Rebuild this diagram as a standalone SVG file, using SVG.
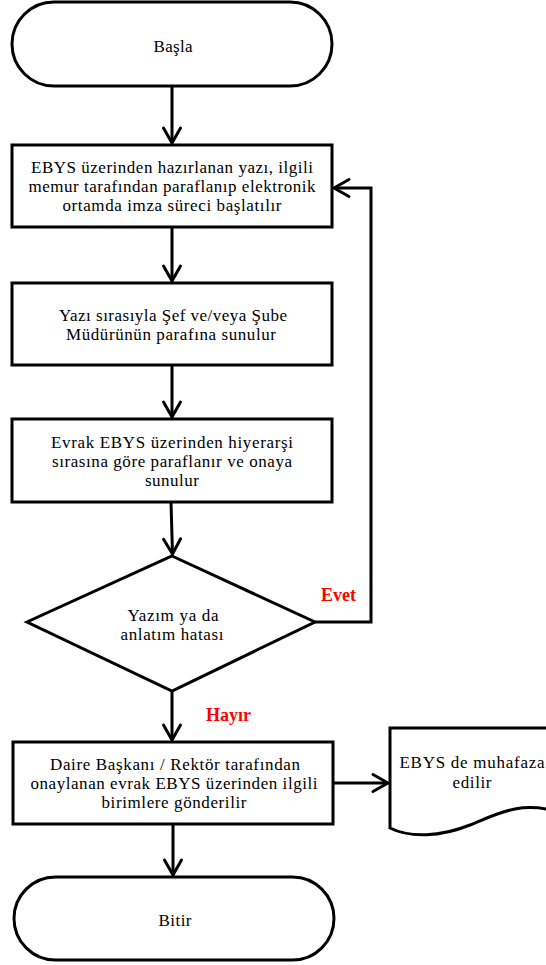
<svg xmlns="http://www.w3.org/2000/svg" width="546" height="965" viewBox="0 0 546 965">
<defs>
<style>
.shape{fill:#fff;stroke:#000;stroke-width:3;stroke-linejoin:miter}
.conn{fill:none;stroke:#000;stroke-width:3}
.t{font-family:"Liberation Serif","Times New Roman",serif;font-size:17px;fill:#000;text-anchor:middle}
.lbl{font-family:"Liberation Serif","Times New Roman",serif;font-size:18px;font-weight:bold;fill:#ff0000}
</style>
<marker id="arr" markerUnits="userSpaceOnUse" markerWidth="40" markerHeight="40" viewBox="-20 -20 40 40" refX="0" refY="0" orient="auto" overflow="visible">
<path d="M-15,-8.5 L0,0 L-15,8.5" fill="none" stroke="#000" stroke-width="3" stroke-linecap="round" stroke-linejoin="round"/>
</marker>
</defs>
<rect width="546" height="965" fill="#fff"/>
<g id="connectors">
<path class="conn" d="M172,86 V143" marker-end="url(#arr)"/>
<path class="conn" d="M172,227 V281" marker-end="url(#arr)"/>
<path class="conn" d="M172,365 V417" marker-end="url(#arr)"/>
<path class="conn" d="M171,502 L172.5,554" marker-end="url(#arr)"/>
<path class="conn" d="M172,691 V740" marker-end="url(#arr)"/>
<path class="conn" d="M333,783 H388" marker-end="url(#arr)"/>
<path class="conn" d="M173,824 V875" marker-end="url(#arr)"/>
<path class="conn" d="M315,622 H371 V188 H334" marker-end="url(#arr)"/>
</g>
<g id="start">
<rect class="shape" x="12" y="2" width="320" height="84" rx="42" ry="42"/>
<text class="t" x="173" y="52" textLength="39" lengthAdjust="spacing">Başla</text>
</g>
<g id="step1">
<rect class="shape" x="12" y="145" width="320" height="82"/>
<text class="t" x="172" y="173" textLength="282" lengthAdjust="spacing">EBYS üzerinden hazırlanan yazı, ilgili</text>
<text class="t" x="172" y="192" textLength="287" lengthAdjust="spacing">memur tarafından paraflanıp elektronik</text>
<text class="t" x="172" y="211" textLength="219" lengthAdjust="spacing">ortamda imza süreci başlatılır</text>
</g>
<g id="step2">
<rect class="shape" x="12" y="283" width="320" height="82"/>
<text class="t" x="173" y="321" textLength="228" lengthAdjust="spacing">Yazı sırasıyla Şef ve/veya Şube</text>
<text class="t" x="171" y="340" textLength="210" lengthAdjust="spacing">Müdürünün parafına sunulur</text>
</g>
<g id="step3">
<rect class="shape" x="12" y="419" width="320" height="83"/>
<text class="t" x="172" y="448" textLength="242" lengthAdjust="spacing">Evrak EBYS üzerinden hiyerarşi</text>
<text class="t" x="172" y="467" textLength="240" lengthAdjust="spacing">sırasına göre paraflanır ve onaya</text>
<text class="t" x="172" y="486" textLength="54" lengthAdjust="spacing">sunulur</text>
</g>
<g id="decision">
<polygon class="shape" points="172,556 315,622 172,691 27,622"/>
<text class="t" x="173" y="621" textLength="91" lengthAdjust="spacing">Yazım ya da</text>
<text class="t" x="172" y="640" textLength="103" lengthAdjust="spacing">anlatım hatası</text>
</g>
<g id="labels">
<text class="lbl" x="321" y="601">Evet</text>
<text class="lbl" x="206" y="721">Hayır</text>
</g>
<g id="step4">
<rect class="shape" x="13" y="742" width="320" height="82"/>
<text class="t" x="175" y="770" textLength="250" lengthAdjust="spacing">Daire Başkanı / Rektör tarafından</text>
<text class="t" x="174" y="789" textLength="287" lengthAdjust="spacing">onaylanan evrak EBYS üzerinden ilgili</text>
<text class="t" x="174" y="808" textLength="145" lengthAdjust="spacing">birimlere gönderilir</text>
</g>
<g id="document">
<path class="shape" d="M390,728 H558 V812 C520,800 495,815 470,825 C440,837 410,838 390,828 Z"/>
<text class="t" x="472" y="768" textLength="145" lengthAdjust="spacing">EBYS de muhafaza</text>
<text class="t" x="472" y="788" textLength="39" lengthAdjust="spacing">edilir</text>
</g>
<g id="end">
<rect class="shape" x="14" y="877" width="320" height="83" rx="41.5" ry="41.5"/>
<text class="t" x="175" y="926" textLength="33" lengthAdjust="spacing">Bitir</text>
</g>
</svg>
